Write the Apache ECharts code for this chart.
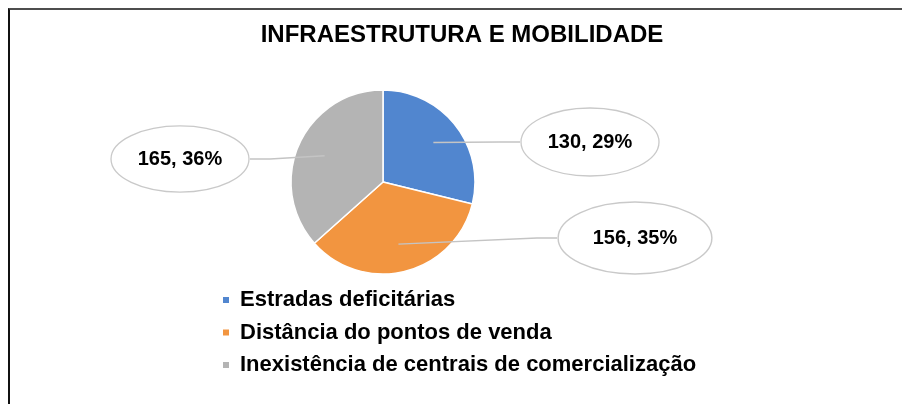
<!DOCTYPE html>
<html>
<head>
<meta charset="utf-8">
<script src="https://cdn.jsdelivr.net/npm/echarts@6/dist/echarts.min.js"></script>
<style>
    html, body { margin: 0; padding: 0; background: #fff; }
    #chart { position: absolute; left: 0; top: 0; width: 902px; height: 404px; }
    #frame {
        position: absolute; left: 8px; top: 8px; right: 0; bottom: 0;
        border-top: 2px solid #4d4d4d; border-left: 2px solid #111;
        pointer-events: none;
    }
</style>
</head>
<body>
<div id="chart"></div>
<div id="frame"></div>
<script>
// 数据
const categories = ['Estradas deficitárias', 'Distância do pontos de venda', 'Inexistência de centrais de comercialização'];
const values = [130, 156, 165];
const pctLabels = [29, 35, 36];
const colors = ['#5186cf', '#f29540', '#b4b4b4'];

// 标签位置（椭圆中心）与大小
const labelCenters = [[590, 142], [635, 238], [180, 159]];
const labelSizes = [[140, 70], [156, 74], [140, 68]];

const fontName = 'Liberation Sans';

// 椭圆标注背景
const ellipseSvg = 'data:image/svg+xml;charset=utf-8,' + encodeURIComponent(
    '<svg xmlns="http://www.w3.org/2000/svg" width="140" height="70" viewBox="0 0 140 70" preserveAspectRatio="none">' +
    '<ellipse cx="70" cy="35" rx="69" ry="34" fill="#ffffff" stroke="#c9c9c9" stroke-width="1.3"/></svg>');
const ellipseImg = new Image();
ellipseImg.src = ellipseSvg;

const pieData = categories.map(function (name, i) {
    return {
        name: name,
        value: values[i],
        itemStyle: {color: colors[i]}
    };
});

let chart = echarts.init(document.getElementById('chart'), null, {renderer: 'canvas'});

let option = {
    animation: false,
    backgroundColor: 'transparent',
    title: {
        text: 'INFRAESTRUTURA E MOBILIDADE',
        left: 457,
        textAlign: 'center',
        top: 18,
        textStyle: {
            fontFamily: fontName,
            fontWeight: 'bold',
            fontSize: 24,
            color: '#000'
        }
    },
    legend: {
        orient: 'vertical',
        left: 216,
        top: 284,
        itemWidth: 8,
        itemHeight: 8,
        itemGap: 10.5,
        icon: 'rect',
        data: categories,
        textStyle: {
            fontFamily: fontName,
            fontWeight: 'bold',
            fontSize: 22,
            lineHeight: 22,
            color: '#000',
            padding: [0, 0, 0, 5]
        }
    },
    series: [
        {
            // 可见的饼图
            type: 'pie',
            z: 2,
            center: [383, 182],
            radius: [0, 92],
            startAngle: 90,
            clockwise: true,
            silent: true,
            itemStyle: {borderColor: '#fff', borderWidth: 1.5},
            label: {show: false},
            labelLine: {show: false},
            data: pieData
        },
        {
            // 透明的内圈，用于从扇区内部引出标签线
            type: 'pie',
            z: 5,
            center: [383, 182],
            radius: [0, 64],
            startAngle: 90,
            clockwise: true,
            silent: true,
            itemStyle: {color: 'rgba(0,0,0,0)', borderWidth: 0},
            label: {
                show: true,
                position: 'outside',
                formatter: function (p) {
                    return values[p.dataIndex] + ', ' + pctLabels[p.dataIndex] + '%';
                },
                fontFamily: fontName,
                fontWeight: 'bold',
                fontSize: 20,
                color: '#000',
                align: 'center',
                verticalAlign: 'middle',
                backgroundColor: {image: ellipseImg}
            },
            labelLine: {
                show: true,
                length: 20,
                length2: 20,
                lineStyle: {color: '#c4c4c4', width: 1.4}
            },
            labelLayout: function (params) {
                const c = labelCenters[params.dataIndex];
                return {
                    x: c[0],
                    y: c[1],
                    align: 'center',
                    verticalAlign: 'middle'
                };
            },
            data: pieData.map(function (d, i) {
                return {
                    name: d.name,
                    value: d.value,
                    itemStyle: {color: 'rgba(0,0,0,0)'},
                    label: {width: labelSizes[i][0], height: labelSizes[i][1], lineHeight: labelSizes[i][1]}
                };
            })
        }
    ]
};

chart.setOption(option);
ellipseImg.onload = function () { chart.setOption(option); };
</script>
</body>
</html>
